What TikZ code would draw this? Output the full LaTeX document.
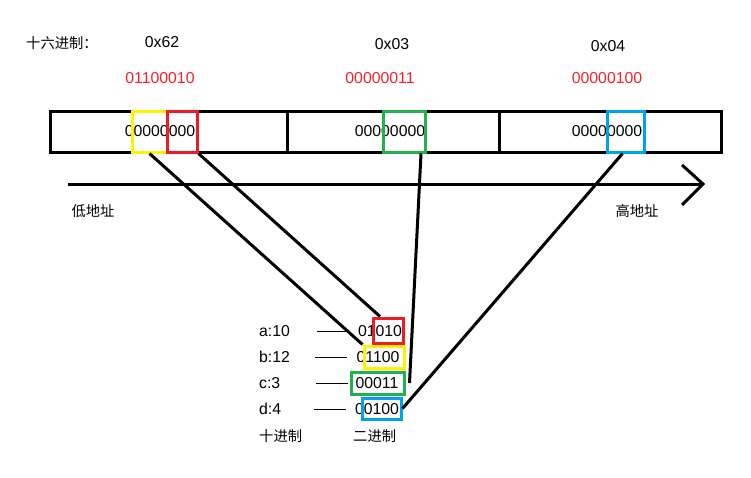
\documentclass[tikz,border=0pt]{standalone}
\usepackage{fontspec}
\setmainfont{Liberation Sans}
\newfontfamily\cjk{Noto Sans CJK SC}
\usepackage{xcolor}
\usepackage{tikz}
\usetikzlibrary{positioning}
\definecolor{pred}{HTML}{ED1C24}
\definecolor{pyel}{HTML}{FFF200}
\definecolor{pgrn}{HTML}{22B14C}
\definecolor{pblu}{HTML}{00A2E8}
\definecolor{redtxt}{HTML}{F5202A}
\tikzset{
  txt/.style={inner sep=0pt,font=\fontsize{15.8}{18}\selectfont},
  zh/.style={inner sep=0pt,font=\fontsize{14.3}{17}\selectfont\cjk},
  bits/.style={txt,text=redtxt},
  frame/.style={line width=3pt,black},
  hl/.style={draw=#1,line width=3pt,inner sep=0pt},
  ln/.style={line width=3pt,black},
  tick/.style={line width=1pt,black}
}
\begin{document}
\begin{tikzpicture}[x=1pt,y=-1pt]
\useasboundingbox (0,0) rectangle (751,477);
% header
\node[zh,anchor=west] (hexlab) at (26,43) {十六进制：};
\node[txt] (h1) at (162,42) {0x62};
\node[txt] (h2) at (392,44) {0x03};
\node[txt] (h3) at (608,46) {0x04};
\node[bits] (b1) at (160,78) {01100010};
\node[bits] (b2) at (380,78) {00000011};
\node[bits] (b3) at (607,78) {00000100};
% memory row
\draw[frame] (50,111) rectangle (721,152);
\draw[frame] (287,111) -- (287,152);
\draw[frame] (499,111) -- (499,152);
\node[txt] (m1) at (160,131) {00000000};
\node[txt] (m2) at (390,131) {00000000};
\node[txt] (m3) at (607,131) {00000000};
\node[hl=pyel,minimum width=35pt,minimum height=41pt] (yb) at (149.5,131.5) {};
\node[hl=pred,minimum width=30pt,minimum height=41pt] (rb) at (182,131.5) {};
\node[hl=pgrn,minimum width=42pt,minimum height=41pt] (gb) at (404,131.5) {};
\node[hl=pblu,minimum width=37pt,minimum height=41pt] (bb) at (625.5,131.5) {};
% address axis
\coordinate (lo) at (68,184);
\coordinate (hi) at (703,184);
\draw[ln] (lo) -- (hi);
\draw[ln] (682,165) -- (hi) -- (682,205);
\node[zh] (low) at (93,211) {低地址};
\node[zh] (high) at (637,211) {高地址};
% fields
\node[txt,anchor=west] (la) at (259,331) {a:10};
\node[txt,anchor=west] (lb) at (259,357) {b:12};
\node[txt,anchor=west] (lc) at (259,383) {c:3};
\node[txt,anchor=west] (ld) at (259,409) {d:4};
\node[zh,anchor=west] (dec) at (259,436) {十进制};
\node[txt] (va) at (380,331) {01010};
\node[txt] (vb) at (378,357) {01100};
\node[txt] (vc) at (377,383) {00011};
\node[txt] (vd) at (377,409) {00100};
\node[zh,anchor=west] (bin) at (353,436) {二进制};
\draw[tick] (317,331) -- (va.west -| 349,0);
\draw[tick] (315,357) -- (vb.west -| 347,0);
\draw[tick] (316,383) -- (vc.west -| 348,0);
\draw[tick] (314,409) -- (vd.west -| 346,0);
\node[hl=pred,minimum width=30pt,minimum height=25pt] (rs) at (388,330.5) {};
\node[hl=pyel,minimum width=40pt,minimum height=22pt] (ys) at (384,357) {};
\node[hl=pgrn,minimum width=53pt,minimum height=22pt] (gs) at (377.5,383) {};
\node[hl=pblu,minimum width=39pt,minimum height=21pt] (bs) at (381.5,408.5) {};
% links
\draw[ln] (yb.south) -- (ys.north west);
\draw[ln] (rb.south east) -- ([xshift=-8pt]rs.north);
\draw[ln] ([xshift=17pt]gb.south) -- ([xshift=4pt]gs.east);
\draw[ln] ([xshift=-3pt]bb.south) -- (bs.east);
\end{tikzpicture}
\end{document}
